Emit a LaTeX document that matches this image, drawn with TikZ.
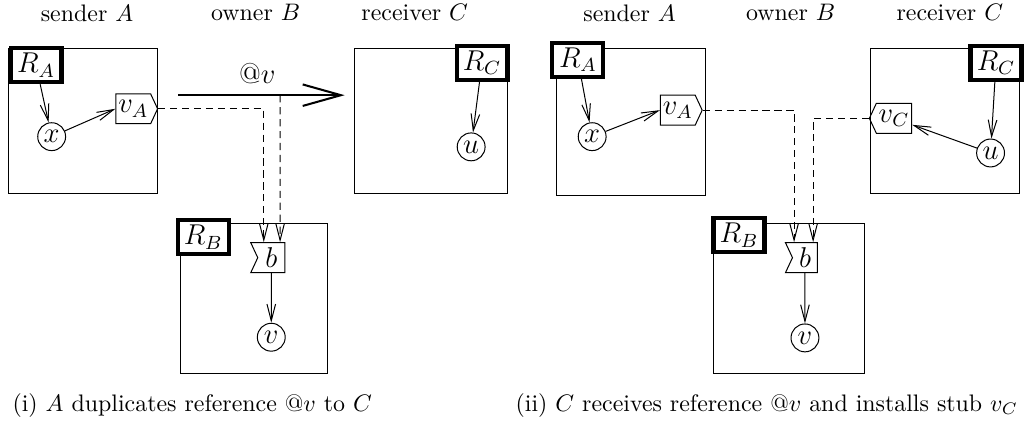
\documentclass[tikz,border=0pt]{standalone}
\usepackage{amsmath}
\usepackage{tikz}
\usetikzlibrary{arrows.meta, shapes.symbols}

\begin{document}
\begin{tikzpicture}[
  site/.style={line width=0.42pt},
  root/.style={draw, line width=1.7pt, fill=white, minimum width=0.75cm, minimum height=0.5cm, inner sep=1pt, font=\large},
  obj/.style={draw, circle, line width=0.42pt, minimum size=0.41cm, inner sep=0pt, font=\large},
  stub/.style={draw, signal, line width=0.42pt, signal pointer angle=130, minimum height=0.44cm, minimum width=0.55cm, inner sep=1pt, font=\large},
  ref/.style={line width=0.42pt, -{Straight Barb[length=7pt,width=3.6pt]}},
  link/.style={line width=0.42pt, dash pattern=on 3pt off 2pt}
]
\useasboundingbox (0,0) rectangle (15.15,-6.28);

% (i) A duplicates @v to C
\node (tA) at (1.28,-0.19) {sender $A$};
\node (tB) at (3.76,-0.19) {owner $B$};
\node (tC) at (6.10,-0.19) {receiver $C$};
\draw[site] (0.13,-0.72) rectangle (2.32,-2.85);
\draw[site] (5.22,-0.72) rectangle (7.46,-2.84);
\draw[site] (2.65,-3.29) rectangle (4.82,-5.49);
\node[root] (RA) at (0.53,-0.96) {$R_A$};
\node[root] (RC) at (7.09,-0.92) {$R_C$};
\node[root] (RB) at (2.99,-3.49) {$R_B$};
\node[obj] (x) at (0.76,-2.01) {$x$};
\node[obj] (u) at (6.93,-2.16) {$u$};
\node[obj] (v) at (3.99,-4.96) {$v$};
\node[stub, signal to=east] (vA) at (1.96,-1.60) {$v_A$};
\node[stub, signal to=nowhere, signal from=west, minimum width=0.5cm] (b) at (3.99,-3.79) {$b$};
\coordinate (s1) at (2.62,-1.40);
\coordinate (e1) at (5.07,-1.40);
\draw[ref] (RA) -- (x);
\draw[ref] (x) -- (vA.west);
\draw[ref] (RC) -- (u);
\draw[ref] (b) -- (v);
\draw[line width=0.85pt, -{Straight Barb[length=16pt,width=9pt]}] (s1) -- (e1) node[midway, above=1pt, xshift=-0.06cm, font=\large] {@$v$};
\draw[link, -{Straight Barb[length=7pt,width=3.6pt]}] (vA.east) -| ([xshift=-0.11cm]b.north);
\draw[link, -{Straight Barb[length=7pt,width=3.6pt]}] (4.12,-1.40) -- ([xshift=0.13cm]b.north);
\node[anchor=west] (cap1) at (0.06,-5.96) {(i) $A$ duplicates reference @$v$ to $C$};

% (ii) C receives @v and installs stub vC
\node (tA2) at (9.26,-0.19) {sender $A$};
\node (tB2) at (11.63,-0.19) {owner $B$};
\node (tC2) at (13.97,-0.19) {receiver $C$};
\draw[site] (8.19,-0.72) rectangle (10.38,-2.87);
\draw[site] (12.81,-0.72) rectangle (15.0,-2.84);
\draw[site] (10.5,-3.29) rectangle (12.71,-5.49);
\node[root] (RA2) at (8.50,-0.88) {$R_A$};
\node[root] (RC2) at (14.65,-0.92) {$R_C$};
\node[root] (RB2) at (10.87,-3.46) {$R_B$};
\node[obj] (x2) at (8.71,-2.01) {$x$};
\node[obj] (u2) at (14.57,-2.25) {$u$};
\node[obj] (v2) at (11.84,-4.97) {$v$};
\node[stub, signal to=east] (vA2) at (9.97,-1.62) {$v_A$};
\node[stub, signal to=west, minimum width=0.62cm] (vC2) at (13.15,-1.74) {$v_C$};
\node[stub, signal to=nowhere, signal from=west, minimum width=0.47cm] (b2) at (11.84,-3.79) {$b$};
\draw[ref] (RA2) -- (x2);
\draw[ref] (x2) -- (vA2.west);
\draw[ref] (RC2) -- (u2);
\draw[ref] (u2) -- (vC2);
\draw[ref] (b2) -- (v2);
\draw[link, -{Straight Barb[length=7pt,width=3.6pt]}] (vA2.east) -| ([xshift=-0.16cm]b2.north);
\draw[link, -{Straight Barb[length=7pt,width=3.6pt]}] (vC2.west) -| ([xshift=0.12cm]b2.north);
\node[anchor=west] (cap2) at (7.46,-5.96) {(ii) $C$ receives reference @$v$ and installs stub $v_C$};
\end{tikzpicture}
\end{document}
